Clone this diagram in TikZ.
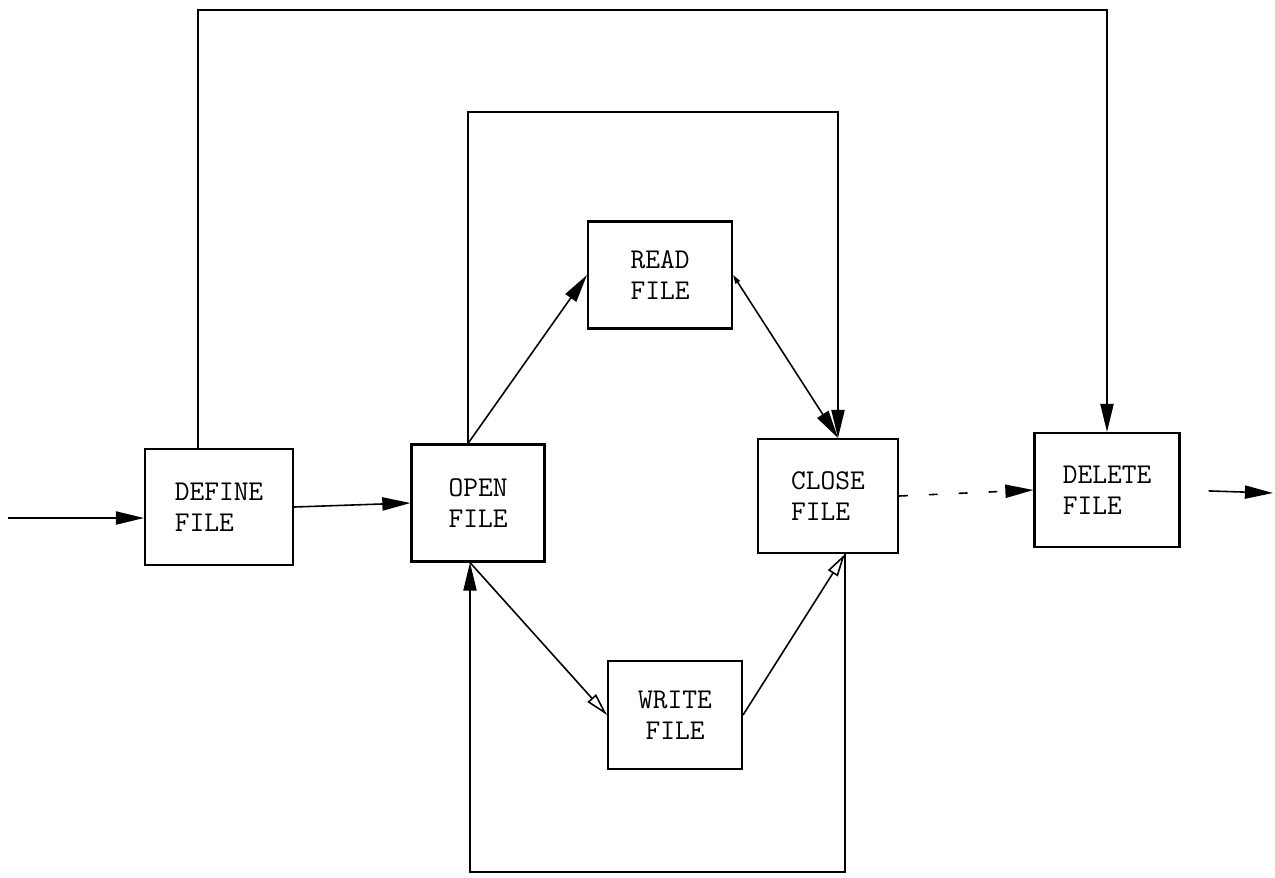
\documentclass[tikz,border=0pt]{standalone}
\usepackage{fontspec}
\usetikzlibrary{arrows.meta,positioning,calc}
\tikzset{
  filebox/.style={draw,line width=1.2pt,align=left,inner sep=0pt,
                  font=\ttfamily\fontsize{16.3}{17.6}\selectfont},
  flow/.style={line width=0.9pt,-{Triangle[length=16pt,width=7.5pt]}},
  hollowflow/.style={line width=0.9pt,-{Triangle[open,length=13pt,width=6.5pt]}},
}
\begin{document}
\begin{tikzpicture}[x=0.02cm,y=-0.02cm]
  \useasboundingbox (0,0) rectangle (1275,877);
  \node[filebox,minimum width=2.96cm,minimum height=2.32cm] (define) at (219,507) {DEFINE\\FILE};
  \node[filebox,minimum width=2.66cm,minimum height=2.34cm] (open) at (478,503) {OPEN\\FILE};
  \node[filebox,minimum width=2.88cm,minimum height=2.14cm] (read) at (660,275) {READ\\FILE};
  \node[filebox,minimum width=2.80cm,minimum height=2.28cm] (close) at (828,496) {CLOSE\\FILE};
  \node[filebox,align=center,minimum width=2.68cm,minimum height=2.16cm] (write) at (675,715) {WRITE\\FILE};
  \node[filebox,minimum width=2.90cm,minimum height=2.28cm] (delete) at (1107,490) {DELETE\\FILE};

  \coordinate (src) at (8,518);
  \coordinate (sink) at (1273,493);
  \coordinate (outerL) at (198,10);
  \coordinate (outerR) at (1107,10);
  \coordinate (innerL) at (468,112);
  \coordinate (innerR) at (838,112);
  \coordinate (loopL) at (470,872);
  \coordinate (loopR) at (845,872);

  \draw[flow] (src) -- (src -| define.west);
  \draw[flow] (define.east) -- (open.west);
  \draw[flow] (outerL |- define.north) -- (outerL) -- (outerR) -- (delete.north);
  \draw[flow] (innerL |- open.north) -- (innerL) -- (innerR) -- (innerR |- close.north);
  \draw[flow] (innerL |- open.north) -- (read.west);
  \draw[line width=0.9pt,{Triangle[length=5pt,width=3pt]}-{Triangle[length=16pt,width=7.5pt]}]
    (read.east) -- (innerR |- close.north);
  \draw[hollowflow] (loopL |- open.south) -- (write.west);
  \draw[hollowflow] (write.east) -- (loopR |- close.south);
  \draw[flow] (loopR |- close.south) -- (loopR) -- (loopL) -- (loopL |- open.south);
  \draw[flow,dash pattern=on 5pt off 12pt] (close.east) -- (delete.west);
  \draw[flow,shorten <=0.56cm] (delete.east) -- (sink);
\end{tikzpicture}
\end{document}
